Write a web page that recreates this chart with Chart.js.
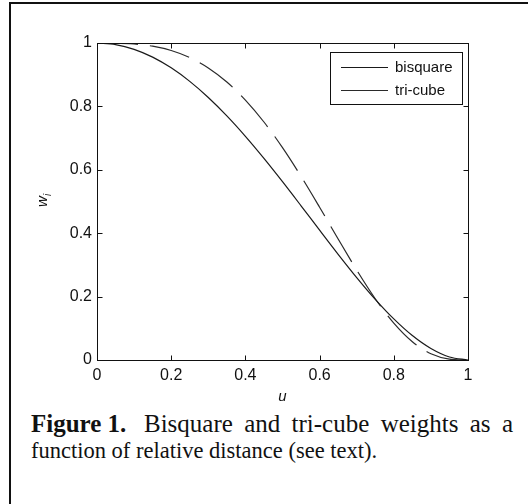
<!DOCTYPE html>
<html>
<head>
<meta charset="utf-8">
<script src="https://cdn.jsdelivr.net/npm/chart.js@4"></script>
<style>
  html, body { margin: 0; padding: 0; background: #fff; }
  #page { position: relative; width: 528px; height: 504px; overflow: hidden; }
  #frame { position: absolute; left: 9px; top: 2px; right: -4px; bottom: -4px;
           border-left: 2px solid #111; border-top: 2px solid #111; }
  #wrap { position: absolute; left: 0; top: 0; width: 528px; height: 408px; }
  .cap { position: absolute; left: 31px; width: 482px; white-space: nowrap;
         font-family: "Liberation Serif", "Times New Roman", serif;
         line-height: 26px; color: #111; }
  #cap1 { top: 411px; font-size: 25px; white-space: normal; text-align: justify; text-align-last: justify; }
  #cap1 b { display: inline-block; }
  #cap2 { top: 438px; font-size: 22.5px; }
</style>
</head>
<body>
<div id="page">
  <div id="frame"></div>
  <div id="wrap"><canvas id="chart" width="528" height="408"></canvas></div>
  <div class="cap" id="cap1"><b>Figure&nbsp;1.&nbsp;</b> Bisquare and tri-cube weights as a</div>
  <div class="cap" id="cap2">function of relative distance (see text).</div>
</div>
<script>
const U = [0, 0.05, 0.1, 0.15, 0.2, 0.25, 0.3, 0.35, 0.4, 0.45, 0.5,
           0.55, 0.6, 0.65, 0.7, 0.75, 0.8, 0.85, 0.9, 0.95, 1];
const BISQUARE = [1, 0.9950, 0.9801, 0.9555, 0.9216, 0.8789, 0.8281, 0.7700, 0.7056, 0.6360, 0.5625,
                  0.4865, 0.4096, 0.3335, 0.2601, 0.1914, 0.1296, 0.0770, 0.0361, 0.0095, 0];
const TRICUBE = [1, 0.9996, 0.9970, 0.9899, 0.9762, 0.9539, 0.9212, 0.8768, 0.8200, 0.7508, 0.6699,
                 0.5793, 0.4819, 0.3817, 0.2836, 0.1932, 0.1162, 0.0575, 0.0199, 0.0029, 0];
const X_TICKS = [0, 0.2, 0.4, 0.6, 0.8, 1];
const Y_TICKS = [0, 0.2, 0.4, 0.6, 0.8, 1];
const SERIES_NAMES = ["bisquare", "tri-cube"];

const FONT = "Liberation Sans, Arial, sans-serif";
const INK = "#111";

function pts(ys) {
  return U.map((u, i) => ({ x: u, y: ys[i] }));
}

// box, inward ticks, axis titles and the boxed legend
const decor = {
  id: "decor",
  afterDraw(chart) {
    const { ctx, chartArea: a, scales } = chart;
    const L = Math.round(a.left) + 0.5, R = Math.round(a.right) + 0.5;
    const T = Math.round(a.top) + 0.5, B = Math.round(a.bottom) + 0.5;
    ctx.save();
    ctx.strokeStyle = INK;
    ctx.lineWidth = 1;
    ctx.setLineDash([]);
    ctx.strokeRect(L, T, R - L, B - T);

    const tl = 5;
    ctx.beginPath();
    X_TICKS.forEach(v => {
      const x = Math.round(scales.x.getPixelForValue(v)) + 0.5;
      ctx.moveTo(x, B); ctx.lineTo(x, B - tl);
      ctx.moveTo(x, T); ctx.lineTo(x, T + tl);
    });
    Y_TICKS.forEach(v => {
      const y = Math.round(scales.y.getPixelForValue(v)) + 0.5;
      ctx.moveTo(L, y); ctx.lineTo(L + tl, y);
      ctx.moveTo(R, y); ctx.lineTo(R - tl, y);
    });
    ctx.stroke();

    // axis titles
    ctx.fillStyle = INK;
    ctx.font = "italic 15px " + FONT;
    ctx.textAlign = "center";
    ctx.textBaseline = "alphabetic";
    ctx.fillText("u", (a.left + a.right) / 2, 401);

    ctx.translate(47, 201);
    ctx.rotate(-Math.PI / 2);
    ctx.textAlign = "left";
    ctx.fillText("w", -6, 0);
    ctx.font = "italic 10px " + FONT;
    ctx.fillText("i", 5, 4);
    ctx.setTransform(1, 0, 0, 1, 0, 0);

    // legend
    const bx = 330.5, by = 52.5, bw = 132, bh = 52;
    ctx.fillStyle = "#fff";
    ctx.fillRect(bx, by, bw, bh);
    ctx.strokeStyle = INK;
    ctx.strokeRect(bx, by, bw, bh);
    ctx.font = "15px " + FONT;
    ctx.textAlign = "left";
    ctx.textBaseline = "middle";
    chart.data.datasets.forEach((ds, i) => {
      const y = Math.round(by + 14 + i * 23) + 0.5;
      ctx.strokeStyle = ds.borderColor;
      ctx.lineWidth = ds.borderWidth;
      ctx.beginPath();
      ctx.moveTo(341, y); ctx.lineTo(388, y);
      ctx.stroke();
      ctx.fillStyle = INK;
      ctx.fillText(ds.label, 395, y);
    });
    ctx.restore();
  }
};

const tickFont = { family: FONT, size: 16 };

new Chart(document.getElementById("chart"), {
  type: "line",
  data: {
    datasets: [
      { label: SERIES_NAMES[0], data: pts(BISQUARE), borderColor: "#1a1a1a", borderWidth: 1.2,
        pointRadius: 0, cubicInterpolationMode: "monotone" },
      { label: SERIES_NAMES[1], data: pts(TRICUBE), borderColor: "#2a2a2a", borderWidth: 1.2,
        borderDash: [41, 12], pointRadius: 0, cubicInterpolationMode: "monotone" },
    ],
  },
  options: {
    responsive: false,
    animation: false,
    layout: { padding: { top: 43, right: 60, left: 0, bottom: 0 } },
    plugins: { legend: { display: false }, tooltip: { enabled: false } },
    scales: {
      x: {
        type: "linear", min: 0, max: 1,
        afterBuildTicks: s => { s.ticks = X_TICKS.map(v => ({ value: v })); },
        afterFit: s => { s.height = 48; },
        grid: { display: false, drawTicks: false },
        border: { display: false },
        ticks: { color: INK, padding: 6, font: tickFont, maxRotation: 0, callback: v => String(v) },
      },
      y: {
        type: "linear", min: 0, max: 1,
        afterBuildTicks: s => { s.ticks = Y_TICKS.map(v => ({ value: v })); },
        afterFit: s => { s.width = 97; },
        grid: { display: false, drawTicks: false },
        border: { display: false },
        ticks: { color: INK, padding: 5, font: tickFont, callback: v => String(v) },
      },
    },
  },
  plugins: [decor],
});
</script>
</body>
</html>
